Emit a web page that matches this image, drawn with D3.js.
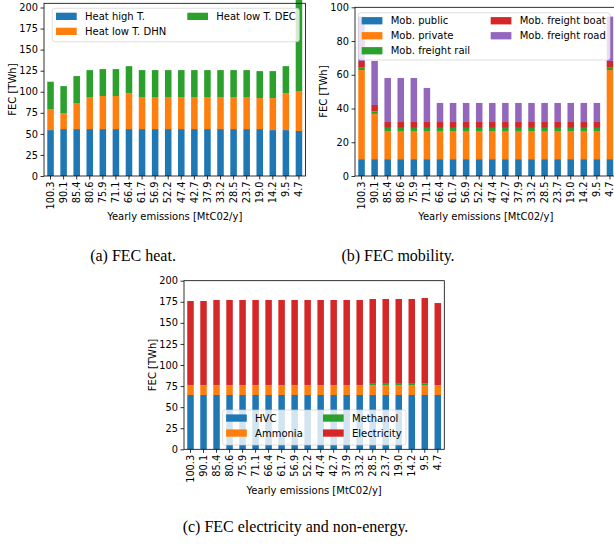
<!DOCTYPE html>
<html>
<head>
<meta charset="utf-8">
<script src="https://cdn.jsdelivr.net/npm/d3@7"></script>
<style>
  html, body { margin: 0; padding: 0; background: #fff; }
  svg { display: block; }
  text { font-family: "DejaVu Sans", sans-serif; fill: #000; }
  .caption { font-family: "Liberation Serif", "Times New Roman", serif; font-size: 16px; }
</style>
</head>
<body>
<svg id="fig" width="614" height="545"></svg>
<script>
// Yearly emissions scenarios [MtCO2/y], one bar per scenario
const emissions = ["100.3","90.1","85.4","80.6","75.9","71.1","66.4","61.7","56.9","52.2",
                   "47.4","42.7","37.9","33.2","28.5","23.7","19.0","14.2","9.5","4.7"];

// (a) Final energy consumption for heat [TWh]
const heatHigh = [54.5,55.7,55.7,55.7,55.7,55.7,55.7,55.7,55.7,55.7,55.7,55.7,55.7,55.7,55.7,55.7,55.7,54.5,54.5,53.4];
const heatDHN  = [24.9,19.0,30.9,38.0,39.2,39.2,42.7,38.0,38.0,38.0,38.0,38.0,38.0,38.0,38.0,38.0,36.8,38.0,43.9,47.4];
const heatDEC  = [32.5,32.0,32.0,32.0,32.0,32.0,32.0,32.0,32.0,32.0,32.0,32.0,32.0,32.0,32.0,32.0,32.0,32.0,32.0,112.0];

// (b) Final energy consumption for mobility [TWh]
const mobPublic  = [10,10,10,10,10,10,10,10,10,10,10,10,10,10,10,10,10,10,10,10];
const mobPrivate = [52.8,26.8,16.7,16.7,16.7,16.7,16.7,16.7,16.7,16.7,16.7,16.7,16.7,16.7,16.7,16.7,16.7,16.7,16.7,52.8];
const mobRail    = [1.4,1.5,1.8,1.8,1.8,1.8,1.8,1.8,1.8,1.8,1.8,1.8,1.8,1.8,1.8,1.8,1.8,1.8,1.8,1.4];
const mobBoat    = [4.0,3.8,3.5,3.5,3.5,3.5,3.5,3.5,3.5,3.5,3.5,3.5,3.5,3.5,3.5,3.5,3.5,3.5,3.5,4.0];
const mobRoad    = [26.3,26.1,26.1,26.1,26.1,20.2,11.3,11.3,11.3,11.3,11.3,11.3,11.3,11.3,11.3,11.3,11.3,11.3,11.3,26.3];

// (c) Final energy consumption for electricity and non-energy uses [TWh]
const hvc         = [64.4,64.4,64.4,64.4,64.4,64.4,64.4,64.4,64.4,64.4,64.4,64.4,64.4,64.4,64.4,64.4,64.4,64.4,64.4,64.4];
const ammonia     = [11.3,11.3,11.3,11.3,11.3,11.3,11.3,11.3,11.3,11.3,11.3,11.3,11.3,11.3,11.3,11.3,11.3,11.3,11.8,11.3];
const methanol    = [0.6,0.6,0.6,0.6,0.6,0.6,0.6,0.6,0.6,0.6,0.6,0.6,0.6,0.6,2.0,2.0,2.0,2.0,2.2,0.3];
const electricity = [99.6,99.6,100.8,100.8,100.8,100.8,100.8,100.8,100.8,100.8,100.8,100.8,100.8,100.8,100.6,100.6,100.6,100.6,101.1,97.5];

// Tick values of the value axes
const ticksHeat = [0,25,50,75,100,125,150,175,200];
const ticksMob  = [0,20,40,60,80,100];
const ticksElec = [0,25,50,75,100,125,150,175,200];

const C = { blue:"#1f77b4", orange:"#ff7f0e", green:"#2ca02c", red:"#d62728", purple:"#9467bd" };

const svg = d3.select("#fig");
svg.append("rect").attr("width",614).attr("height",545).attr("fill","#fff");

function panel(cfg) {
  const g = svg.append("g");
  const x = d3.scaleBand().domain(emissions).range([cfg.left, cfg.right])
              .paddingInner(0.5).paddingOuter(0.25);
  const y = d3.scaleLinear().domain([0, cfg.ymax]).range([cfg.bottom, cfg.top]);

  // stacked bars
  const rows = emissions.map((e, i) => {
    const r = { cat: e };
    cfg.series.forEach(s => r[s.name] = s.values[i]);
    return r;
  });
  const stack = d3.stack().keys(cfg.series.map(s => s.name))(rows);
  stack.forEach((layer, li) => {
    g.append("g").attr("fill", cfg.series[li].color)
      .selectAll("rect").data(layer).join("rect")
      .attr("x", d => x(d.data.cat))
      .attr("width", x.bandwidth())
      .attr("y", d => y(d[1]))
      .attr("height", d => y(d[0]) - y(d[1]));
  });

  // axes
  const ya = g.append("g").attr("transform", `translate(${cfg.left},0)`)
    .call(d3.axisLeft(y).tickValues(cfg.ticks).tickSize(3.5).tickPadding(2.5).tickFormat(d3.format("d")));
  const xa = g.append("g").attr("transform", `translate(0,${cfg.bottom})`)
    .call(d3.axisBottom(x).tickSize(3.5).tickPadding(2));
  [ya, xa].forEach(a => {
    a.select(".domain").remove();
    a.selectAll("line").attr("stroke", "#000").attr("stroke-width", 0.8);
    a.selectAll("text").style("font-size", "9.8px").style("font-family", "DejaVu Sans");
  });
  xa.selectAll("text")
    .attr("text-anchor", "end")
    .attr("transform", `translate(0,${3.5 + 2}) rotate(-90)`)
    .attr("x", 0).attr("y", 0).attr("dy", "0.33em");

  // frame
  g.append("rect")
    .attr("x", cfg.left).attr("y", cfg.top)
    .attr("width", cfg.right - cfg.left).attr("height", cfg.bottom - cfg.top)
    .attr("fill", "none").attr("stroke", "#000").attr("stroke-width", 0.8);

  // axis titles
  g.append("text")
    .attr("transform", `translate(${cfg.ylabelX},${(cfg.top + cfg.bottom) / 2}) rotate(-90)`)
    .attr("text-anchor", "middle").attr("dy", "0.35em")
    .style("font-size", "10px").text("FEC [TWh]");
  g.append("text")
    .attr("x", (cfg.left + cfg.right) / 2).attr("y", cfg.xlabelY)
    .attr("text-anchor", "middle").style("font-size", "10px")
    .text("Yearly emissions [MtC02/y]");

  // legend
  const L = cfg.legend;
  const lg = g.append("g");
  lg.append("rect")
    .attr("x", L.x).attr("y", L.y).attr("width", L.w).attr("height", L.h)
    .attr("rx", 2.5).attr("fill", "#fff").attr("fill-opacity", 0.8)
    .attr("stroke", "#ccc").attr("stroke-opacity", 0.8).attr("stroke-width", 0.8);
  cfg.series.forEach((s, i) => {
    const col = Math.floor(i / L.perCol), row = i % L.perCol;
    const px = L.x + L.cols[col], py = L.y + 4.4 + row * 15;
    lg.append("rect").attr("x", px).attr("y", py).attr("width", 20.7).attr("height", 7.3).attr("fill", s.color);
    lg.append("text").attr("x", px + 29).attr("y", py + 3.65).attr("dy", "0.35em")
      .style("font-size", "10px").text(s.name);
  });

  // caption
  svg.append("text").attr("class", "caption")
    .attr("x", cfg.capX).attr("y", cfg.capY).attr("text-anchor", "middle").text(cfg.caption);
}

panel({
  left: 44, right: 305.5, top: 3.3, bottom: 176, ymax: 205, ticks: ticksHeat,
  ylabelX: 12.7, xlabelY: 220,
  series: [
    { name: "Heat high T.", values: heatHigh, color: C.blue },
    { name: "Heat low T. DHN", values: heatDHN, color: C.orange },
    { name: "Heat low T. DEC", values: heatDEC, color: C.green }
  ],
  legend: { x: 52.3, y: 8.3, w: 247, h: 33.4, perCol: 2, cols: [3.7, 135] },
  caption: "(a) FEC heat.", capX: 133, capY: 260.5
});

panel({
  left: 355, right: 616.5, top: 7.3, bottom: 176, ymax: 100, ticks: ticksMob,
  ylabelX: 323, xlabelY: 220,
  series: [
    { name: "Mob. public", values: mobPublic, color: C.blue },
    { name: "Mob. private", values: mobPrivate, color: C.orange },
    { name: "Mob. freight rail", values: mobRail, color: C.green },
    { name: "Mob. freight boat", values: mobBoat, color: C.red },
    { name: "Mob. freight road", values: mobRoad, color: C.purple }
  ],
  legend: { x: 358.3, y: 12.7, w: 251.7, h: 47.3, perCol: 3, cols: [3.4, 132.4] },
  caption: "(b) FEC mobility.", capX: 398, capY: 260.5
});

panel({
  left: 184, right: 444.3, top: 280.7, bottom: 449.3, ymax: 200, ticks: ticksElec,
  ylabelX: 152.7, xlabelY: 493.5,
  series: [
    { name: "HVC", values: hvc, color: C.blue },
    { name: "Ammonia", values: ammonia, color: C.orange },
    { name: "Methanol", values: methanol, color: C.green },
    { name: "Electricity", values: electricity, color: C.red }
  ],
  legend: { x: 222.7, y: 410, w: 183.3, h: 35, perCol: 2, cols: [3.4, 100.3] },
  caption: "(c) FEC electricity and non-energy.", capX: 295.5, capY: 531.5
});
</script>
</body>
</html>
